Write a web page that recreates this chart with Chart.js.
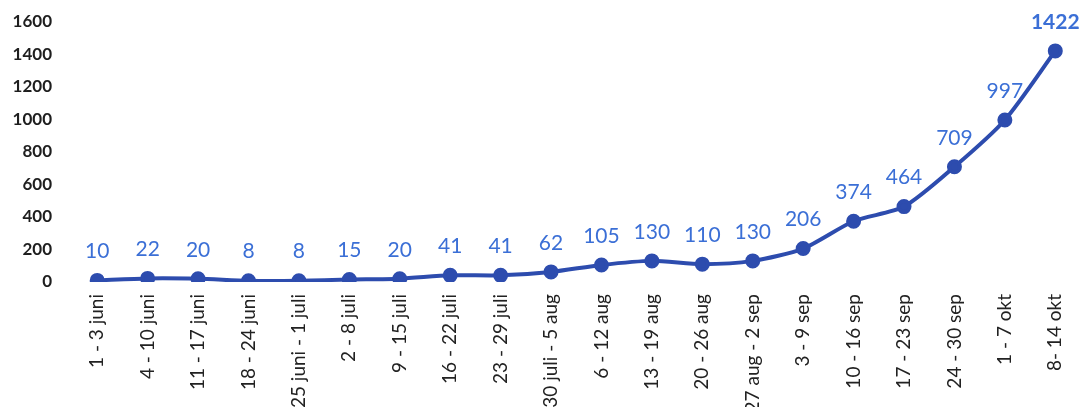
<!DOCTYPE html>
<html>
<head>
<meta charset="utf-8">
<script src="https://cdn.jsdelivr.net/npm/chart.js@4.4.1/dist/chart.umd.min.js"></script>
<style>
html,body{margin:0;padding:0;background:#fff;overflow:hidden;}
#wrap{width:1080px;height:407px;position:relative;overflow:hidden;}
</style>
</head>
<body>
<div id="wrap"><canvas id="c" width="1090" height="407"></canvas></div>
<script>
const categories = ["1 - 3 juni","4 - 10 juni","11 - 17 juni","18 - 24 juni","25 juni - 1 juli","2 - 8 juli","9 - 15 juli","16 - 22 juli","23 - 29 juli","30 juli - 5 aug","6 - 12 aug","13 - 19 aug","20 - 26 aug","27 aug - 2 sep","3 - 9 sep","10 - 16 sep","17 - 23 sep","24 - 30 sep","1 - 7 okt","8- 14 okt"];
const values = [10,22,20,8,8,15,20,41,41,62,105,130,110,130,206,374,464,709,997,1422];
const yTicks = [0,200,400,600,800,1000,1200,1400,1600];

const FONT = "Lato, 'Open Sans', sans-serif";

const labelPlugin = {
  id: 'valueLabels',
  afterDatasetsDraw(chart) {
    const ctx = chart.ctx;
    const meta = chart.getDatasetMeta(0);
    ctx.save();
    ctx.textAlign = 'center';
    ctx.textBaseline = 'middle';
    meta.data.forEach((pt, i) => {
      const last = i === values.length - 1;
      ctx.font = (last ? 'bold ' : '') + '21px ' + FONT;
      ctx.fillStyle = '#3b6fd6';
      ctx.fillText(String(values[i]), pt.x, pt.y - 29);
    });
    ctx.restore();
  }
};

new Chart(document.getElementById('c'), {
  type: 'line',
  data: {
    labels: categories,
    datasets: [{
      data: values,
      borderColor: '#2d4cae',
      backgroundColor: '#2d4cae',
      borderWidth: 4,
      pointRadius: 5.5,
      pointHoverRadius: 5.5,
      pointBackgroundColor: '#2d4cae',
      pointBorderColor: '#2d4cae',
      tension: 0.25,
      fill: false
    }]
  },
  options: {
    responsive: false,
    animation: false,
    devicePixelRatio: 1,
    layout: { padding: { top: 22, right: 0, left: 0, bottom: 0 } },
    plugins: { legend: { display: false }, tooltip: { enabled: false } },
    scales: {
      x: {
        offset: true,
        grid: { display: false, drawTicks: false },
        border: { display: false },
        ticks: {
          autoSkip: false,
          minRotation: 90,
          maxRotation: 90,
          padding: 12,
          color: '#222',
          font: { family: FONT, size: 19 }
        },
        afterFit(s) { s.height = 125; s.paddingLeft = 0; s.paddingRight = 0; }
      },
      y: {
        min: 0,
        max: 1600,
        afterBuildTicks(s) { s.ticks = yTicks.map(v => ({ value: v })); },
        grid: { display: false, drawTicks: false },
        border: { display: false },
        ticks: {
          padding: 20,
          color: '#1e1e1e',
          font: { family: FONT, size: 17, weight: 'bold' },
          callback: v => String(v)
        },
        afterFit(s) { s.width = 72; s.paddingTop = 0; s.paddingBottom = 0; }
      }
    }
  },
  plugins: [labelPlugin]
});
</script>
</body>
</html>
